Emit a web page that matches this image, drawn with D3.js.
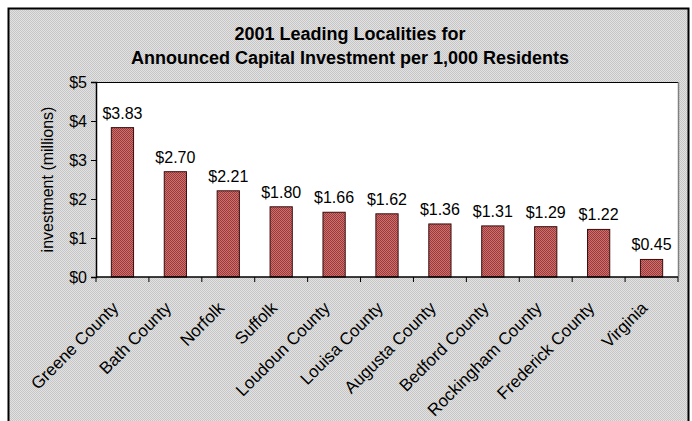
<!DOCTYPE html>
<html><head><meta charset="utf-8">
<script src="https://cdn.jsdelivr.net/npm/d3@7"></script>
<style>html,body{margin:0;padding:0;background:#fff;}svg{display:block;}</style>
</head><body>
<script>
const categories = ["Greene County","Bath County","Norfolk","Suffolk","Loudoun County","Louisa County","Augusta County","Bedford County","Rockingham County","Frederick County","Virginia"];
const values = [3.83,2.70,2.21,1.80,1.66,1.62,1.36,1.31,1.29,1.22,0.45];
const yTicks = [0,1,2,3,4,5];
const titleLines = ["2001 Leading Localities for","Announced Capital Investment per 1,000 Residents"];
const yLabel = "investment (millions)";

const W = 692, H = 421;
const m = {left:96, right:678, top:82, bottom:277};
const font = "'Liberation Sans', Arial, sans-serif";

const svg = d3.select("body").append("svg").attr("width", W).attr("height", H);
const defs = svg.append("defs");
const bg = defs.append("pattern").attr("id","bgpat").attr("width",2).attr("height",2).attr("patternUnits","userSpaceOnUse");
bg.append("rect").attr("width",2).attr("height",2).attr("fill","#e2e2e2");
bg.append("rect").attr("width",1).attr("height",1).attr("fill","#c6c6c6");
bg.append("rect").attr("x",1).attr("y",1).attr("width",1).attr("height",1).attr("fill","#c6c6c6");
const bp = defs.append("pattern").attr("id","barpat").attr("width",2).attr("height",2).attr("patternUnits","userSpaceOnUse");
bp.append("rect").attr("width",2).attr("height",2).attr("fill","#cc7070");
bp.append("rect").attr("width",1).attr("height",1).attr("fill","#9c3a3a");
bp.append("rect").attr("x",1).attr("y",1).attr("width",1).attr("height",1).attr("fill","#9c3a3a");

// chart area
svg.append("rect").attr("x",8.5).attr("y",8.5).attr("width",680).attr("height",430)
  .attr("fill","url(#bgpat)").attr("stroke","#000").attr("stroke-width",2);

// plot area
svg.append("rect").attr("x",m.left).attr("y",m.top).attr("width",m.right-m.left).attr("height",m.bottom-m.top).attr("fill","#fff");
svg.append("line").attr("x1",m.left).attr("x2",m.right).attr("y1",m.top+0.5).attr("y2",m.top+0.5).attr("stroke","#000");
svg.append("line").attr("x1",m.right+0.5).attr("x2",m.right+0.5).attr("y1",m.top).attr("y2",m.bottom).attr("stroke","#808080").attr("stroke-width",1.5);

const x = d3.scaleBand().domain(categories).range([m.left, m.right]).padding(0);
const y = d3.scaleLinear().domain([0,5]).range([m.bottom, m.top]);
const bw = x.bandwidth()*0.42;

svg.append("g").selectAll("rect").data(values).join("rect")
  .attr("x",(d,i)=>x(categories[i])+x.bandwidth()/2-bw/2)
  .attr("y",d=>y(d))
  .attr("width",bw).attr("height",d=>y(0)-y(d))
  .attr("fill","url(#barpat)").attr("stroke","#3a0c0c").attr("stroke-width",1);

svg.append("g").selectAll("text").data(values).join("text")
  .attr("x",(d,i)=>x(categories[i])+x.bandwidth()/2)
  .attr("y",d=>y(d)-9)
  .attr("text-anchor","middle").attr("font-family",font).attr("font-size",16).attr("fill","#000")
  .text(d=>"$"+d.toFixed(2));

// y axis
const yAxis = svg.append("g").attr("transform",`translate(${m.left},0)`)
  .call(d3.axisLeft(y).tickValues(yTicks).tickSize(5).tickPadding(4).tickFormat(d=>"$"+d));
yAxis.select(".domain").attr("stroke","#000").attr("stroke-width",1.5);
yAxis.selectAll(".tick line").attr("stroke","#000");
yAxis.selectAll("text").attr("font-family",font).attr("font-size",16).attr("fill","#000").attr("dy","0.35em");

// x axis
const bounds = d3.range(categories.length+1).map(i=>m.left + i*x.step());
const xg = svg.append("g");
xg.append("line").attr("x1",m.left).attr("x2",m.right).attr("y1",m.bottom).attr("y2",m.bottom).attr("stroke","#000").attr("stroke-width",1.5);
xg.selectAll("line.tk").data(bounds).join("line").attr("class","tk")
  .attr("x1",d=>d).attr("x2",d=>d).attr("y1",m.bottom).attr("y2",m.bottom+5).attr("stroke","#000");
xg.selectAll("text").data(categories).join("text")
  .attr("transform",d=>`translate(${x(d)+x.bandwidth()/2-3},${m.bottom+32}) rotate(-45)`)
  .attr("text-anchor","end").attr("font-family",font).attr("font-size",17).attr("fill","#000")
  .text(d=>d);

// y label
svg.append("text").attr("transform",`translate(53,${(m.top+m.bottom)/2}) rotate(-90)`)
  .attr("text-anchor","middle").attr("font-family",font).attr("font-size",16).attr("fill","#000").text(yLabel);

// title
svg.append("g").selectAll("text").data(titleLines).join("text")
  .attr("x",350).attr("y",(d,i)=>40+i*24)
  .attr("text-anchor","middle").attr("font-family",font).attr("font-size",18).attr("font-weight","bold").attr("fill","#000")
  .text(d=>d);
</script>
</body></html>
